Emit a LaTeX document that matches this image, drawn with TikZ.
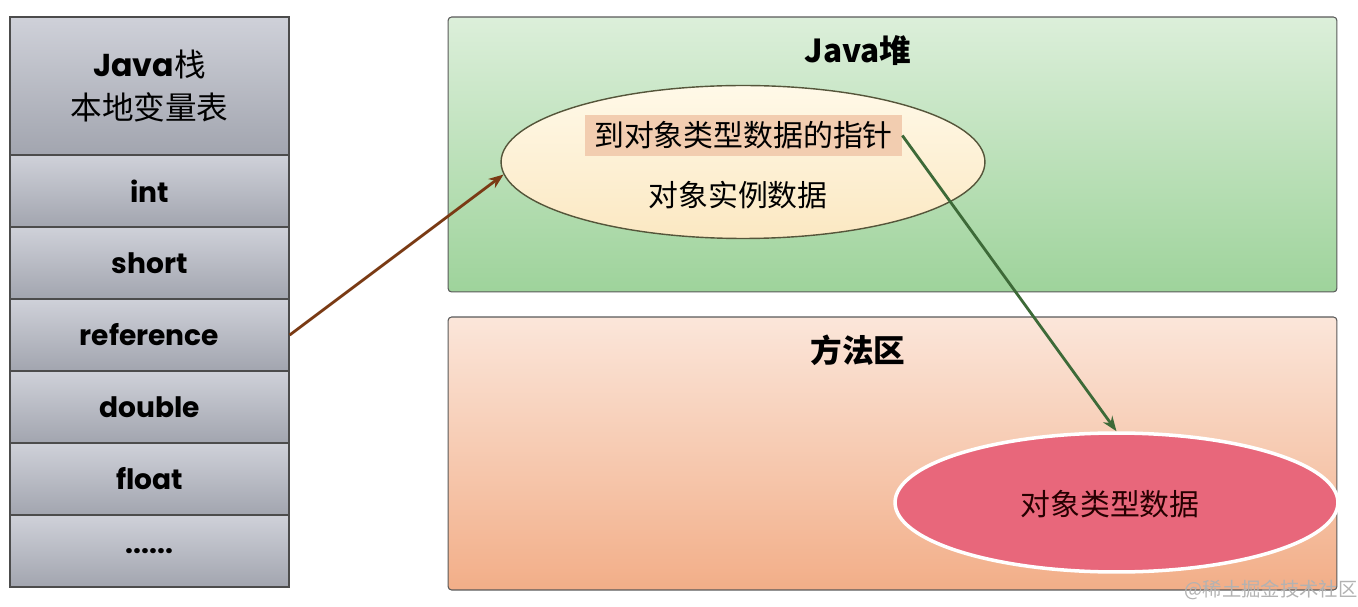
\documentclass[tikz,border=0pt]{standalone}
\usepackage{fontspec}
\setmainfont{Poppins}
\newfontfamily\cjk{Noto Sans CJK SC}
\usetikzlibrary{shapes, arrows.meta}
\definecolor{cellTop}{HTML}{CFD1D9}
\definecolor{cellBot}{HTML}{A2A5AF}
\definecolor{heapTop}{HTML}{DCEFDA}
\definecolor{heapBot}{HTML}{9ED39B}
\definecolor{methTop}{HTML}{FBE6DA}
\definecolor{methBot}{HTML}{F2AE88}
\definecolor{objTop}{HTML}{FFF9E8}
\definecolor{objBot}{HTML}{FBE8C2}
\definecolor{objLine}{HTML}{55553A}
\definecolor{ptrFill}{HTML}{F2CDB0}
\definecolor{typeFill}{HTML}{E8677B}
\definecolor{arrBrown}{HTML}{7A3A14}
\definecolor{arrGreen}{HTML}{3D6A38}

\begin{document}
\begin{tikzpicture}[x=0.02cm,y=-0.02cm,
        cell/.style={rectangle,draw=black!70,line width=.8pt,minimum width=5.58cm,minimum height=1.44cm,inner sep=0pt,top color=cellTop,bottom color=cellBot,font=\fontsize{16}{19}\selectfont\bfseries},
        area/.style={rectangle,rounded corners=2pt,draw=black!65,line width=.6pt,minimum width=17.78cm,inner sep=0pt},
        title/.style={font=\cjk\fontsize{18}{21}\selectfont\bfseries},
        cjktext/.style={font=\cjk\fontsize{17}{20}\selectfont}]
        \useasboundingbox (0,0) rectangle (1358,607);
        \node [cell,minimum height=2.76cm,align=center,font=\fontsize{18}{24}\selectfont] (stk) at (149.5,86) {{\bfseries Java}{\cjk 栈}\\{\cjk 本地变量表}};
        \node [cell] (int) at (149.5,191) {int};
        \node [cell] (short) at (149.5,263) {short};
        \node [cell] (ref) at (149.5,335) {reference};
        \node [cell] (dbl) at (149.5,407) {double};
        \node [cell] (flt) at (149.5,479) {float};
        \node [cell] (more) at (149.5,551) {......};
        \node [area,minimum height=5.5cm,top color=heapTop,bottom color=heapBot] (heap) at (892.5,154.5) {};
        \node [title] (heapT) at (858,51) {Java堆};
        \node [ellipse,draw=objLine,line width=.8pt,minimum width=9.68cm,minimum height=3.06cm,inner sep=0pt,top color=objTop,bottom color=objBot] (obj) at (743,162) {};
        \node [cjktext,fill=ptrFill,minimum width=6.34cm,minimum height=0.82cm,inner sep=0pt] (ptr) at (743.5,135.5) {到对象类型数据的指针};
        \node [cjktext] (inst) at (738,195) {对象实例数据};
        \node [area,minimum height=5.46cm,top color=methTop,bottom color=methBot] (meth) at (892.5,453.5) {};
        \node [title] (methT) at (858,350) {方法区};
        \node [ellipse,draw=white,line width=2pt,fill=typeFill,minimum width=8.86cm,minimum height=2.78cm,inner sep=0pt] (type) at (1116.5,502.5) {};
        \node [cjktext,text=black!85!red] (typeT) at (1110,504) {对象类型数据};
        \node [font=\cjk\fontsize{11}{13}\selectfont,text=black!30] (wm) at (1271,590) {@稀土掘金技术社区};
        \draw[-{Stealth[length=3mm]},line width=1.6pt,draw=arrBrown,fill=arrBrown] (ref.east) -- (obj.183);
        \draw[-{Stealth[length=3mm]},line width=1.6pt,draw=arrGreen,fill=arrGreen] (ptr.east) -- (type.north);
    \end{tikzpicture}
\end{document}
